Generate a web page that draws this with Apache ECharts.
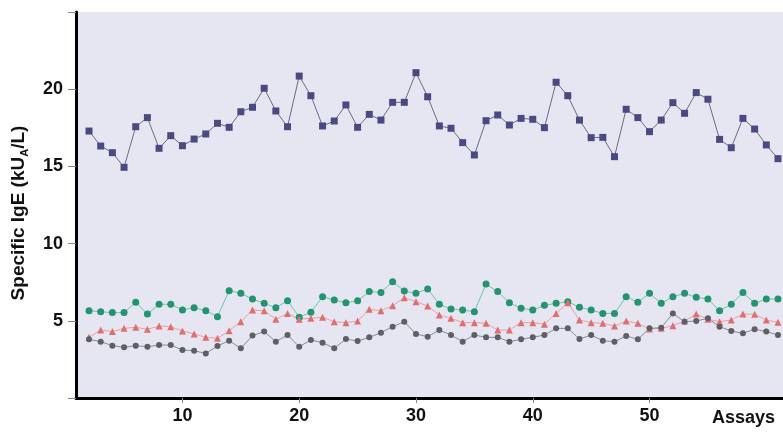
<!DOCTYPE html>
<html><head><meta charset="utf-8">
<script src="https://cdn.jsdelivr.net/npm/echarts@6/dist/echarts.min.js"></script>
<style>html,body{margin:0;padding:0;background:#fff}#c{width:783px;height:435px}</style>
</head><body><div id="c"></div>
<script>
var assays = [2,3,4,5,6,7,8,9,10,11,12,13,14,15,16,17,18,19,20,21,22,23,24,25,26,27,28,29,30,31,32,33,34,35,36,37,38,39,40,41,42,43,44,45,46,47,48,49,50,51,52,53,54,55,56,57,58,59,60,61];
var highSeries = [17.29,16.32,15.89,14.94,17.57,18.16,16.17,16.99,16.34,16.77,17.10,17.79,17.53,18.54,18.83,20.06,18.59,17.57,20.85,19.58,17.62,17.94,18.98,17.53,18.37,18.0,19.15,19.15,21.07,19.51,17.62,17.47,16.54,15.74,17.96,18.33,17.68,18.11,18.05,17.51,20.45,19.58,18.0,16.86,16.88,15.63,18.70,18.16,17.25,18.0,19.13,18.44,19.78,19.35,16.75,16.21,18.11,17.42,16.39,15.50];
var greenSeries = [5.65,5.59,5.53,5.53,6.20,5.44,6.07,6.07,5.70,5.85,5.65,5.27,6.95,6.78,6.41,6.13,5.85,6.30,5.23,5.56,6.56,6.35,6.17,6.30,6.89,6.84,7.53,6.93,6.78,7.06,6.07,5.76,5.70,5.59,7.38,6.89,6.17,5.81,5.70,6.00,6.13,6.24,5.87,5.70,5.48,5.48,6.56,6.20,6.78,6.13,6.56,6.78,6.52,6.41,5.65,6.07,6.84,6.13,6.41,6.41];
var redSeries = [3.93,4.40,4.30,4.51,4.58,4.45,4.66,4.62,4.34,4.15,3.93,3.87,4.36,4.94,5.70,5.65,5.10,5.48,5.10,5.16,5.23,4.94,4.88,4.99,5.74,5.65,5.98,6.50,6.24,5.96,5.38,5.16,4.88,4.88,4.84,4.40,4.40,4.88,4.88,4.78,5.48,6.17,5.05,4.88,4.84,4.66,4.99,4.84,4.47,4.51,4.68,4.99,5.44,5.10,4.94,5.05,5.44,5.42,5.05,4.90];
var greySeries = [3.80,3.65,3.39,3.28,3.39,3.32,3.43,3.43,3.11,3.06,2.89,3.37,3.71,3.22,4.04,4.30,3.65,4.08,3.32,3.76,3.58,3.22,3.82,3.69,3.93,4.23,4.62,4.94,4.15,3.97,4.40,4.08,3.65,4.08,3.93,3.93,3.65,3.80,3.93,4.08,4.51,4.51,3.82,4.08,3.71,3.65,4.02,3.80,4.51,4.55,5.48,4.94,4.99,5.16,4.62,4.34,4.19,4.45,4.30,4.08];
var xTickLabels = [10,20,30,40,50];
var yTicks = [5,10,15,20];
var xAxisTitle = 'Assays';

function pairs(v){ return v.map(function(y,i){ return [assays[i], y]; }); }
var font = '"Liberation Sans", Arial, sans-serif';
var chart = echarts.init(document.getElementById('c'), null, {renderer:'canvas'});
function mk(name, data, color, lineColor, symbol, size){
  return {name:name, type:'line', data:pairs(data), symbol:symbol, symbolSize:size,
    itemStyle:{color:color}, lineStyle:{color:lineColor, width:1}, animation:false, clip:false, z:3};
}
chart.setOption({
  animation:false,
  grid:{left:76, right:0, top:12, bottom:37, show:true, backgroundColor:'#e6e6f2', borderWidth:0},
  xAxis:{type:'value', min:0.885, max:61.43,
    axisLine:{show:true, lineStyle:{color:'#000', width:3}},
    axisTick:{show:true, customValues:xTickLabels, length:5, lineStyle:{color:'#888', width:1}},
    axisLabel:{show:true, customValues:xTickLabels, margin:9, fontSize:18, fontWeight:'bold', color:'#111', fontFamily:font},
    splitLine:{show:false}},
  yAxis:{type:'value', min:0, max:25, interval:5,
    name:'{a|Specific IgE (kU}{s|A}{a|/L)}', nameLocation:'middle', nameGap:46, nameRotate:90,
    nameTextStyle:{padding:[0,16,0,0], rich:{a:{fontSize:19, fontWeight:'bold', color:'#111', fontFamily:font, lineHeight:22},
                         s:{fontSize:11, fontWeight:'bold', color:'#111', fontFamily:font, verticalAlign:'bottom', lineHeight:22, padding:[7,0,0,0]}}},
    axisLine:{show:true, lineStyle:{color:'#000', width:3}},
    axisTick:{show:true, length:8, lineStyle:{color:'#888', width:1}},
    axisLabel:{margin:13, fontSize:18, fontWeight:'bold', color:'#111', fontFamily:font,
      formatter:function(v){ return yTicks.indexOf(v) >= 0 ? String(v) : ''; }},
    splitLine:{show:false}},
  graphic:[{type:'text', left:712, top:409, style:{text:xAxisTitle, font:'bold 18px '+font, fill:'#111'}}],
  series:[
    mk('high', highSeries, '#4a4a82', '#6a6a8a', 'rect', 7),
    mk('green', greenSeries, '#23946f', '#6fc4a6', 'circle', 7),
    mk('red', redSeries, '#de6f6f', '#e9a0a0', 'triangle', 7),
    mk('grey', greySeries, '#5e5e66', '#8a8a92', 'circle', 6)
  ]
});
</script></body></html>
